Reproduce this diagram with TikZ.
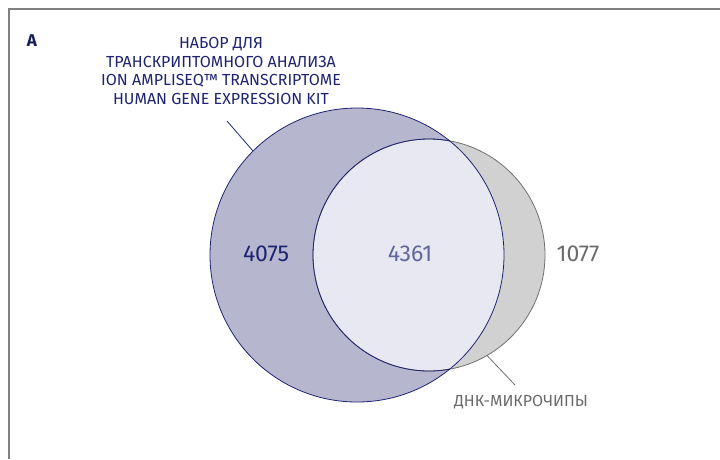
\documentclass[tikz,border=0pt]{standalone}
\usepackage{fontspec}
\setmainfont{Fira Sans}
\usetikzlibrary{positioning}
\definecolor{kitnavy}{HTML}{1F2470}
\definecolor{kitfill}{HTML}{B6B7CF}
\definecolor{bothfill}{HTML}{E8E8F2}
\definecolor{chipfill}{HTML}{D1D1D1}
\definecolor{chipline}{HTML}{707070}
\definecolor{labgray}{HTML}{6A6A6A}
\tikzset{set node/.style={circle,inner sep=0pt,outer sep=0pt}}
\tikzset{count/.style={font=\fontsize{23}{26}\selectfont}}
\tikzset{label text/.style={font=\fontsize{16}{18.5}\selectfont,align=center}}

\begin{document}
\begin{tikzpicture}[x=1pt,y=-1pt]
    \useasboundingbox (0,0) rectangle (720,459);
    \draw[gray,line width=1.2pt] (720,9) -- (9,9) -- (9,459);

    	\node[set node,minimum size=294pt] (kit) at (357,255) {};
    	\node[set node,minimum size=232pt] (chip) at (429,255) {};

    	% areas
    	\fill[kitfill] (kit.center) circle (147);
    	\fill[chipfill] (chip.center) circle (116);
    	\begin{scope}
    	\clip (kit.center) circle (147);
    	\fill[bothfill] (chip.center) circle (116);
    	\end{scope}

    	% outlines
    	\draw[chipline,line width=0.8pt] (chip.center) circle (116);
    	\begin{scope}
    	\clip (kit.center) circle (147);
    	\draw[kitnavy,line width=0.8pt] (chip.center) circle (116);
    	\end{scope}
    	\draw[kitnavy,line width=0.8pt] (kit.center) circle (147);

    	\node[count,text=kitnavy] (only kit) at (266,254) {4075};
    	\node[count,text=kitnavy!70] (both) at (410,254) {4361};
    	\node[count,text=labgray] (only chip) at (578,254) {1077};

    	\node[font=\fontsize{17}{18}\selectfont\bfseries,text=kitnavy!80!black] (panel) at (32,41) {А};
    	\node[label text,text=kitnavy,anchor=north] (kit name) at (221,34) {НАБОР ДЛЯ\\ТРАНСКРИПТОМНОГО АНАЛИЗА\\ION AMPLISEQ™ TRANSCRIPTOME\\HUMAN GENE EXPRESSION KIT};
    	\node[label text,text=labgray] (chip name) at (521,402) {ДНК-МИКРОЧИПЫ};

    	\coordinate (kit tip) at (227,121);
    	\coordinate (chip tip) at (515,385);
    	\draw[kitnavy,line width=0.8pt] (kit tip) -- (kit.135);
    	\draw[chipline,line width=0.8pt] (chip.-60) -- (chip tip);
    \end{tikzpicture}
\end{document}
